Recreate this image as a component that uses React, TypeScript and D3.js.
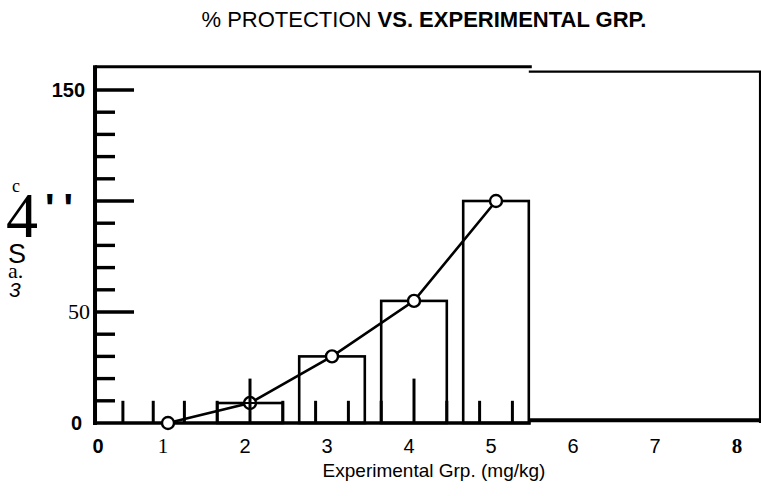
import React from "react";
import * as d3 from "d3";

const groups = [1, 2, 3, 4, 5];
const protection = [0, 9, 30, 55, 100];
const barGroups = [2, 3, 4, 5];
const barValues = [9, 30, 55, 100];
const xTickValues = [0, 1, 2, 3, 4, 5, 6, 7, 8];
const xTickLabels = ["0", "1", "2", "3", "4", "5", "6", "7", "8"];
const yMinorTicks = [10, 20, 30, 40, 60, 70, 80, 90, 110, 120, 130, 140];
const yMajorTicks = [50, 100, 150];
const yTickLabelValues = [150, 50, 0];
const yTickLabels = ["150", "50", "0"];
const baseMinorTicks = [0.45, 0.82, 1.2, 1.6, 2.4, 2.8, 3.2, 3.6, 4.4, 4.8, 5.2];
const baseMajorTicks = [2, 4];
const title1 = "% PROTECTION ";
const title2 = "VS. EXPERIMENTAL GRP.";
const xTitle = "Experimental Grp. (mg/kg)";

const W = 761;
const H = 496;
const SANS = "'Liberation Sans', Arial, sans-serif";
const SERIF = "'Liberation Serif', 'Times New Roman', serif";

export default function App() {
  const x = d3.scaleLinear().domain([0, 8]).range([86, 742]);
  const y = d3.scaleLinear().domain([0, 150]).range([423, 90]);
  const axisX = x(0.11);
  const panelEnd = x(5.4);
  const rightEdge = x(8.22);
  const topY = y(160.5);
  const rightTopY = y(158.3);
  const bw = x(0.8) - x(0);

  const line = d3
    .line<number>()
    .x((_, i) => x(groups[i]))
    .y((d) => y(d))
    .curve(d3.curveLinear);

  const xLabelStyle = (i: number) => {
    if (i === 0) return { fontFamily: SANS, fontWeight: 700, fontSize: 20 };
    if (i === 1) return { fontFamily: SERIF, fontWeight: 400, fontSize: 21 };
    if (i === 8) return { fontFamily: SERIF, fontWeight: 700, fontSize: 21 };
    return { fontFamily: SANS, fontWeight: 400, fontSize: 20 };
  };
  const yLabelStyle = (i: number) => {
    if (i === 1) return { fontFamily: SERIF, fontWeight: 400, fontSize: 22 };
    return { fontFamily: SANS, fontWeight: 700, fontSize: 20 };
  };

  return (
    <svg
      width={W}
      height={H}
      style={{ position: "absolute", left: 0, top: 0, display: "block", background: "#fff" }}
    >
      <rect x={0} y={0} width={W} height={H} fill="#fff" />
      {/* title */}
      <text x={424} y={27} textAnchor="middle" fontFamily={SANS} fontSize={22} fill="#000">
        <tspan>{title1}</tspan>
        <tspan fontWeight={700}>{title2}</tspan>
      </text>

      {/* right empty box */}
      <path
        d={`M${panelEnd},${rightTopY} H${rightEdge} V${y(0)}`}
        fill="none"
        stroke="#000"
        strokeWidth={2.2}
      />
      <line x1={panelEnd} x2={rightEdge} y1={y(1.2)} y2={y(1.2)} stroke="#000" strokeWidth={4} />

      {/* bars */}
      {barGroups.map((g, i) => (
        <rect
          key={g}
          x={x(g) - bw / 2}
          y={y(barValues[i])}
          width={bw}
          height={y(0) - y(barValues[i])}
          fill="none"
          stroke="#000"
          strokeWidth={2.6}
        />
      ))}

      {/* left panel frame */}
      <line x1={axisX} x2={panelEnd + 3} y1={topY} y2={topY} stroke="#000" strokeWidth={3} />
      <line x1={axisX} x2={axisX} y1={topY - 1.5} y2={y(0) + 2} stroke="#000" strokeWidth={4} />
      <line x1={axisX - 2} x2={panelEnd + 2} y1={y(0)} y2={y(0)} stroke="#000" strokeWidth={3.6} />

      {/* y ticks */}
      {yMinorTicks.map((v) => (
        <line key={"ym" + v} x1={axisX} x2={axisX + 20} y1={y(v)} y2={y(v)} stroke="#000" strokeWidth={3.4} />
      ))}
      {yMajorTicks.map((v) => (
        <line key={"yM" + v} x1={axisX} x2={axisX + 39} y1={y(v)} y2={y(v)} stroke="#000" strokeWidth={3.4} />
      ))}

      {/* line & points */}
      <path d={line(protection) || ""} fill="none" stroke="#000" strokeWidth={2.6} />
      {groups.map((g, i) => (
        <circle key={"c" + g} cx={x(g)} cy={y(protection[i])} r={6} fill="#fff" stroke="#000" strokeWidth={2.4} />
      ))}

      {/* baseline ticks */}
      {baseMinorTicks.map((v) => (
        <line key={"bm" + v} x1={x(v)} x2={x(v)} y1={y(0)} y2={y(10)} stroke="#000" strokeWidth={3} />
      ))}
      {baseMajorTicks.map((v) => (
        <line key={"bM" + v} x1={x(v)} x2={x(v)} y1={y(0)} y2={y(20)} stroke="#000" strokeWidth={3} />
      ))}
      <line x1={x(2) - 6} x2={x(2) + 6} y1={y(protection[1])} y2={y(protection[1])} stroke="#000" strokeWidth={2} />

      {/* y tick labels */}
      {yTickLabelValues.map((v, i) => (
        <text
          key={"yl" + v}
          x={axisX - (i === 1 ? 5 : i === 2 ? 13 : 10)}
          y={y(v) + 7}
          textAnchor="end"
          fill="#000"
          {...yLabelStyle(i)}
        >
          {yTickLabels[i]}
        </text>
      ))}

      {/* garbled y label */}
      <text x={12} y={192} fontFamily={SERIF} fontSize={18} fill="#000">c</text>
      <text x={6} y={237} fontFamily={SERIF} fontSize={64} fill="#000">4</text>
      <text x={45} y={222} fontFamily={SANS} fontWeight={700} fontSize={40} letterSpacing={9} fill="#000">''</text>
      <text x={8} y={263} fontFamily={SANS} fontSize={27} fill="#000">S</text>
      <text x={8} y={278} fontFamily={SERIF} fontSize={22} fill="#000">a.</text>
      <text x={9} y={297} fontFamily={SANS} fontStyle="italic" fontSize={21} fill="#000">3</text>

      {/* x tick labels */}
      {xTickValues.map((v, i) => (
        <text
          key={"xl" + v}
          x={i === 0 ? axisX + 3 : x(v) - 5}
          y={453}
          textAnchor="middle"
          fill="#000"
          {...xLabelStyle(i)}
        >
          {xTickLabels[i]}
        </text>
      ))}

      {/* x title */}
      <text x={434} y={477} textAnchor="middle" fontFamily={SANS} fontSize={19} fill="#000">
        {xTitle}
      </text>
    </svg>
  );
}
